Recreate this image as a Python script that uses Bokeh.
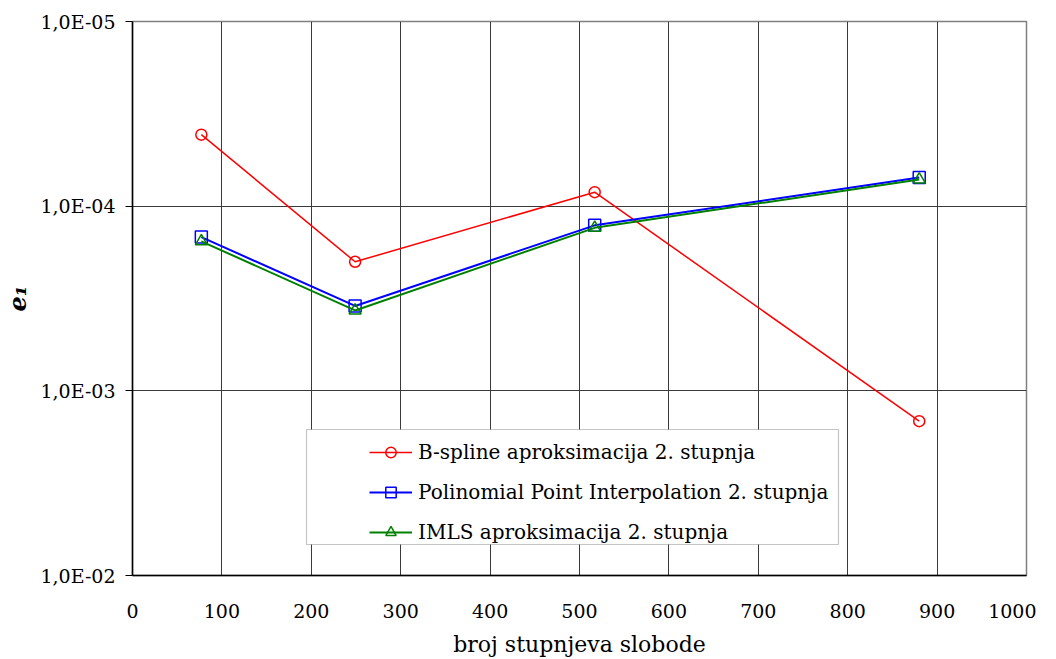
from bokeh.plotting import figure
from bokeh.models import (Range1d, FixedTicker, CustomJSTickFormatter, Legend, LegendItem,
                          BoxAnnotation)
from bokeh.embed import file_html
from bokeh.resources import INLINE

# ---- data ----
dof = [77, 249, 517, 880]
bspline = [4.1e-5, 2.0e-4, 8.4e-5, 1.46e-3]
ppi = [1.47e-4, 3.47e-4, 1.27e-4, 7.0e-5]
imls = [1.55e-4, 3.67e-4, 1.31e-4, 7.17e-5]
names = ["B-spline aproksimacija 2. stupnja",
         "Polinomial Point Interpolation 2. stupnja",
         "IMLS aproksimacija 2. stupnja"]
x_ticks = list(range(0, 1001, 100))
y_ticks = [1e-5, 1e-4, 1e-3, 1e-2]

FONT = "DejaVu Serif"

p = figure(frame_width=894, frame_height=554, y_axis_type="log",
           x_range=Range1d(0, 1000), y_range=Range1d(1e-2, 1e-5),
           output_backend="svg", toolbar_location=None,
           min_border_left=120, min_border_top=21, min_border_right=10,
           min_border_bottom=74)

p.background_fill_color = "white"
p.outline_line_color = "#808080"
p.outline_line_width = 1.5

# grid
p.xgrid.ticker = FixedTicker(ticks=x_ticks)
p.ygrid.ticker = FixedTicker(ticks=y_ticks)
for g in (p.xgrid, p.ygrid):
    g.grid_line_color = "#3a3a3a"
    g.grid_line_width = 1
p.ygrid.minor_grid_line_color = None

# axes
xa = p.xaxis[0]
xa.ticker = FixedTicker(ticks=x_ticks)
xa.major_tick_out = 0
xa.major_tick_in = 0
xa.minor_tick_out = 0
xa.minor_tick_in = 0
xa.major_label_standoff = 28
xa.axis_label = "broj stupnjeva slobode"
xa.axis_label_text_font = FONT
xa.axis_label_text_font_size = "22px"
xa.axis_label_text_font_style = "normal"
xa.axis_label_standoff = 11
xa.axis_line_color = "#000000"
xa.axis_line_width = 1.5

ya = p.yaxis[0]
ya.ticker = FixedTicker(ticks=y_ticks)
ya.formatter = CustomJSTickFormatter(code="""
    const e = Math.round(Math.log10(tick));
    const s = (e < 0 ? '-' : '+') + String(Math.abs(e)).padStart(2, '0');
    return '1,0E' + s;
""")
ya.major_tick_out = 7
ya.major_tick_in = 0
ya.minor_tick_out = 0
ya.minor_tick_in = 0
ya.major_label_standoff = 10
ya.axis_label = "e₁"
ya.axis_label_text_font = FONT
ya.axis_label_text_font_size = "24px"
ya.axis_label_text_font_style = "bold italic"
ya.axis_label_standoff = 5
ya.axis_line_color = "#000000"
ya.axis_line_width = 1.5
ya.major_tick_line_color = "#000000"

for ax in (xa, ya):
    ax.major_label_text_font = FONT
    ax.major_label_text_font_size = "19px"
    ax.major_label_text_color = "black"
    ax.axis_label_text_color = "black"

# series
r1l = p.line(dof, bspline, line_color="#FF0000", line_width=1.5)
r1m = p.scatter(dof, bspline, marker="circle", size=11, fill_color=None,
                line_color="#FF0000", line_width=1.5)
r2l = p.line(dof, ppi, line_color="#0000FF", line_width=2)
r2m = p.scatter(dof, ppi, marker="square", size=12, fill_color=None,
                line_color="#0000FF", line_width=1.5)
r3l = p.line(dof, imls, line_color="#008000", line_width=2)
r3m = p.scatter(dof, imls, marker="triangle", size=12, fill_color=None,
                line_color="#008000", line_width=1.5)

# legend frame
box = BoxAnnotation(left=174, right=706, bottom=31, top=146,
                    left_units="screen", right_units="screen",
                    bottom_units="screen", top_units="screen",
                    fill_color="white", fill_alpha=1.0,
                    line_color="#404040", line_width=1.2)
p.add_layout(box)

legend = Legend(items=[LegendItem(label=names[0], renderers=[r1l, r1m]),
                       LegendItem(label=names[1], renderers=[r2l, r2m]),
                       LegendItem(label=names[2], renderers=[r3l, r3m])],
                location=(237, 30), padding=0, spacing=14,
                glyph_width=43, glyph_height=26, label_height=26,
                label_standoff=6, margin=0,
                border_line_alpha=0, background_fill_alpha=0,
                label_text_font=FONT, label_text_font_size="20px",
                label_text_color="black")
p.add_layout(legend)

open("out.html", "w").write(file_html(p, INLINE))
